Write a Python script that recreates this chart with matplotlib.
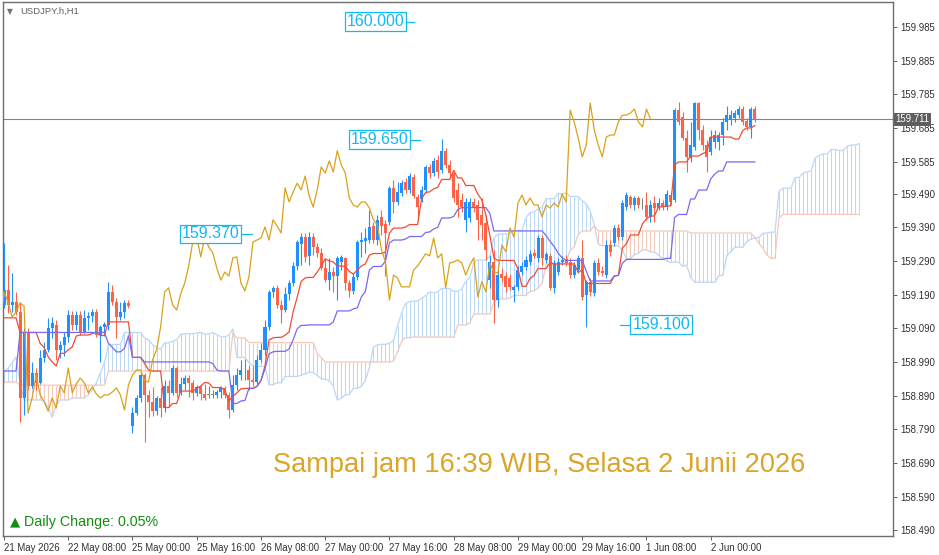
import numpy as np
import pandas as pd
import matplotlib
matplotlib.use('Agg')
import matplotlib.pyplot as plt
import matplotlib.transforms as mtransforms

# USDJPY.h H1 candles (21 May 2026 -> 2 Jun 2026)
opens = [
    159.159, 159.204, 159.159, 159.168, 159.138, 158.883, 159.079, 158.919, 158.957, 158.928,
    159.002, 159.026, 159.091, 159.100, 159.026, 159.040, 159.064, 159.129, 159.100, 159.129,
    159.079, 159.121, 159.127, 159.138, 159.070, 159.094, 159.100, 159.198, 159.168, 159.124,
    159.138, 159.165, 158.800, 158.838, 158.883, 158.951, 158.892, 158.871, 158.844, 158.883,
    158.853, 158.919, 158.898, 158.972, 158.898, 158.925, 158.942, 158.928, 158.898, 158.916,
    158.895, 158.892, 158.892, 158.892, 158.901, 158.913, 158.892, 158.847, 158.922, 158.951,
    158.966, 158.966, 158.936, 158.930, 158.996, 159.026, 159.094, 159.198, 159.210, 159.159,
    159.144, 159.192, 159.224, 159.275, 159.340, 159.361, 159.305, 159.361, 159.331, 159.314,
    159.269, 159.233, 159.257, 159.245, 159.287, 159.299, 159.224, 159.201, 159.242, 159.346,
    159.349, 159.352, 159.394, 159.352, 159.421, 159.400, 159.406, 159.507, 159.465, 159.492,
    159.524, 159.501, 159.539, 159.480, 159.474, 159.501, 159.569, 159.551, 159.590, 159.560,
    159.617, 159.575, 159.551, 159.501, 159.471, 159.412, 159.418, 159.465, 159.456, 159.426,
    159.403, 159.233, 159.287, 159.174, 159.251, 159.245, 159.239, 159.204, 159.213, 159.257,
    159.272, 159.287, 159.314, 159.299, 159.358, 159.293, 159.305, 159.210, 159.257, 159.287,
    159.296, 159.287, 159.248, 159.263, 159.299, 159.189, 159.228, 159.195, 159.284, 159.260,
    159.248, 159.337, 159.343, 159.388, 159.361, 159.450, 159.480, 159.456, 159.477, 159.456,
    159.456, 159.421, 159.462, 159.447, 159.462, 159.450, 159.486, 159.471, 159.738, 159.718,
    159.655, 159.596, 159.628, 159.759, 159.679, 159.634, 159.614, 159.643, 159.643, 159.664,
    159.703, 159.709, 159.715, 159.723, 159.741, 159.706, 159.688, 159.741,
]
highs = [
    159.343, 159.278, 159.254, 159.198, 159.168, 159.091, 159.091, 158.990, 158.972, 159.026,
    159.049, 159.121, 159.124, 159.115, 159.052, 159.079, 159.144, 159.141, 159.141, 159.141,
    159.144, 159.138, 159.147, 159.147, 159.100, 159.109, 159.228, 159.219, 159.180, 159.168,
    159.174, 159.174, 158.856, 158.892, 158.957, 158.957, 158.907, 158.916, 158.889, 158.916,
    158.936, 158.936, 158.981, 158.978, 158.945, 158.951, 158.951, 158.936, 158.922, 158.922,
    158.925, 158.919, 158.907, 158.907, 158.919, 158.919, 158.901, 158.951, 158.972, 158.996,
    158.999, 158.981, 158.978, 159.011, 159.046, 159.115, 159.204, 159.216, 159.219, 159.174,
    159.213, 159.233, 159.287, 159.352, 159.373, 159.373, 159.376, 159.373, 159.343, 159.328,
    159.299, 159.299, 159.272, 159.305, 159.308, 159.302, 159.233, 159.254, 159.352, 159.376,
    159.388, 159.441, 159.406, 159.426, 159.441, 159.412, 159.513, 159.530, 159.524, 159.530,
    159.536, 159.551, 159.548, 159.489, 159.513, 159.575, 159.578, 159.596, 159.605, 159.652,
    159.625, 159.590, 159.560, 159.521, 159.492, 159.477, 159.477, 159.477, 159.471, 159.477,
    159.426, 159.308, 159.323, 159.263, 159.269, 159.257, 159.251, 159.219, 159.275, 159.287,
    159.305, 159.323, 159.326, 159.367, 159.367, 159.317, 159.314, 159.293, 159.299, 159.305,
    159.308, 159.299, 159.287, 159.308, 159.352, 159.233, 159.239, 159.293, 159.299, 159.275,
    159.352, 159.352, 159.397, 159.400, 159.471, 159.495, 159.486, 159.483, 159.483, 159.477,
    159.495, 159.471, 159.483, 159.477, 159.471, 159.501, 159.495, 159.744, 159.762, 159.732,
    159.679, 159.703, 159.762, 159.762, 159.694, 159.649, 159.679, 159.679, 159.673, 159.715,
    159.750, 159.738, 159.738, 159.750, 159.750, 159.715, 159.747, 159.750,
]
lows = [
    159.150, 159.135, 159.138, 159.129, 158.812, 158.832, 158.907, 158.913, 158.907, 158.925,
    158.990, 159.020, 159.061, 158.996, 159.002, 159.008, 159.049, 159.085, 159.085, 159.070,
    159.076, 159.085, 159.109, 159.064, 158.990, 159.067, 159.085, 159.159, 159.061, 159.115,
    159.121, 159.150, 158.779, 158.832, 158.871, 158.752, 158.826, 158.829, 158.832, 158.826,
    158.841, 158.856, 158.892, 158.886, 158.892, 158.907, 158.886, 158.877, 158.889, 158.877,
    158.877, 158.883, 158.883, 158.883, 158.883, 158.883, 158.824, 158.841, 158.907, 158.936,
    158.936, 158.907, 158.919, 158.925, 158.990, 159.011, 159.085, 159.183, 159.150, 159.106,
    159.138, 159.174, 159.216, 159.263, 159.278, 159.287, 159.278, 159.308, 159.302, 159.263,
    159.228, 159.204, 159.198, 159.174, 159.263, 159.204, 159.183, 159.192, 159.233, 159.302,
    159.314, 159.343, 159.343, 159.337, 159.367, 159.245, 159.397, 159.432, 159.456, 159.483,
    159.492, 159.492, 159.477, 159.412, 159.465, 159.492, 159.536, 159.542, 159.536, 159.551,
    159.566, 159.536, 159.465, 159.421, 159.435, 159.376, 159.406, 159.435, 159.352, 159.352,
    159.293, 159.210, 159.106, 159.153, 159.228, 159.198, 159.204, 159.168, 159.204, 159.248,
    159.263, 159.278, 159.299, 159.287, 159.278, 159.284, 159.204, 159.195, 159.248, 159.278,
    159.275, 159.239, 159.239, 159.254, 159.174, 159.094, 159.186, 159.186, 159.248, 159.245,
    159.239, 159.305, 159.334, 159.352, 159.352, 159.441, 159.447, 159.441, 159.447, 159.444,
    159.412, 159.406, 159.406, 159.441, 159.441, 159.441, 159.456, 159.465, 159.694, 159.649,
    159.554, 159.584, 159.620, 159.649, 159.620, 159.554, 159.605, 159.625, 159.620, 159.634,
    159.679, 159.694, 159.703, 159.715, 159.694, 159.679, 159.655, 159.703,
]
closes = [
    159.204, 159.159, 159.168, 159.138, 158.883, 159.079, 158.919, 158.957, 158.928, 159.002,
    159.026, 159.091, 159.106, 159.026, 159.040, 159.064, 159.129, 159.100, 159.129, 159.079,
    159.121, 159.127, 159.138, 159.070, 159.094, 159.103, 159.198, 159.168, 159.124, 159.138,
    159.165, 159.156, 158.838, 158.883, 158.951, 158.892, 158.871, 158.844, 158.883, 158.853,
    158.919, 158.898, 158.972, 158.898, 158.925, 158.942, 158.928, 158.898, 158.916, 158.895,
    158.883, 158.892, 158.892, 158.901, 158.913, 158.892, 158.847, 158.922, 158.951, 158.966,
    158.966, 158.936, 158.930, 158.996, 159.026, 159.094, 159.198, 159.210, 159.159, 159.144,
    159.192, 159.224, 159.275, 159.346, 159.361, 159.302, 159.361, 159.331, 159.314, 159.269,
    159.233, 159.257, 159.245, 159.299, 159.302, 159.224, 159.201, 159.242, 159.346, 159.352,
    159.358, 159.391, 159.352, 159.412, 159.394, 159.373, 159.507, 159.465, 159.495, 159.521,
    159.501, 159.542, 159.483, 159.450, 159.501, 159.569, 159.551, 159.587, 159.554, 159.617,
    159.575, 159.551, 159.477, 159.456, 159.450, 159.465, 159.465, 159.447, 159.412, 159.397,
    159.323, 159.287, 159.174, 159.248, 159.239, 159.213, 159.213, 159.213, 159.263, 159.275,
    159.293, 159.311, 159.305, 159.358, 159.299, 159.311, 159.210, 159.284, 159.287, 159.293,
    159.284, 159.248, 159.278, 159.299, 159.183, 159.228, 159.198, 159.284, 159.257, 159.254,
    159.337, 159.317, 159.388, 159.361, 159.462, 159.486, 159.456, 159.477, 159.456, 159.456,
    159.421, 159.456, 159.447, 159.462, 159.450, 159.489, 159.465, 159.738, 159.703, 159.655,
    159.599, 159.634, 159.759, 159.679, 159.634, 159.599, 159.658, 159.664, 159.664, 159.703,
    159.723, 159.723, 159.729, 159.741, 159.703, 159.688, 159.741, 159.711,
]

# indicator values at the left edge (their history is off-screen)
tenkan_head = [159.121, 159.121, 159.121, 159.121]
kijun_head = [158.963, 158.963, 158.963, 158.963]
span_a_head = [158.960, 158.972, 158.987, 159.005, 158.928, 158.877, 158.877, 158.877, 158.877,
               158.877, 158.877, 158.853, 158.826, 158.862, 158.877, 158.877, 158.877, 158.883,
               158.883, 158.883, 158.883, 158.892, 158.907, 158.928, 158.957, 158.987]
span_b_head = [158.930] * 4 + [158.921] * 22 + [158.963] * 31

time_labels = ['21 May 2026', '22 May 08:00', '25 May 00:00', '25 May 16:00', '26 May 08:00',
               '27 May 00:00', '27 May 16:00', '28 May 08:00', '29 May 00:00', '29 May 16:00',
               '1 Jun 08:00', '2 Jun 00:00']
price_ticks = [159.985, 159.885, 159.785, 159.685, 159.585, 159.490, 159.390, 159.290,
               159.190, 159.090, 158.990, 158.890, 158.790, 158.690, 158.590, 158.490]
last_price = 159.711
levels = [160.000, 159.650, 159.370, 159.100]

plt.rcParams['font.family'] = ['Liberation Sans', 'DejaVu Sans']

n = len(closes)
idx = np.arange(n)
hi = pd.Series(highs)
lo = pd.Series(lows)

tenkan = ((hi.rolling(9, min_periods=1).max() + lo.rolling(9, min_periods=1).min()) / 2).values
tenkan[:len(tenkan_head)] = tenkan_head
kijun = ((hi.rolling(26, min_periods=1).max() + lo.rolling(26, min_periods=1).min()) / 2).values
kijun[:len(kijun_head)] = kijun_head
span_a = np.empty(n + 26)
span_a[26:] = (tenkan + kijun) / 2
span_a[:26] = span_a_head
span_b = np.empty(n + 26)
span_b[26:] = ((hi.rolling(52, min_periods=1).max() + lo.rolling(52, min_periods=1).min()) / 2).values
span_b[:len(span_b_head)] = span_b_head
cidx = np.arange(n + 26)

BULL = '#1e90ff'
BEAR = '#ff6347'
CLOUD_UP = '#bcd8f5'
CLOUD_DN = '#f5c9b9'

fig = plt.figure(figsize=(9.39, 5.55), dpi=100)
ax = fig.add_axes([3 / 939, 19 / 555, 890 / 939, 534 / 555])

# cloud: one vertical hatch per bar
up = span_a >= span_b
ax.vlines(cidx, np.minimum(span_a, span_b), np.maximum(span_a, span_b),
          colors=np.where(up, CLOUD_UP, CLOUD_DN), lw=0.75, zorder=1)
ax.plot(cidx, span_a, color=CLOUD_UP, lw=0.9, zorder=1)
ax.plot(cidx, span_b, color=CLOUD_DN, lw=0.9, zorder=1)

# candles
o = np.array(opens)
c = np.array(closes)
colors = np.where(np.abs(c - o) < 0.002, '#808080', np.where(c > o, BULL, BEAR))
ax.vlines(idx, lows, highs, colors=colors, lw=0.8, zorder=3)
body = np.maximum(np.abs(c - o), 0.0015)
ax.bar(idx, body, bottom=np.minimum(o, c), width=0.75, color=colors, lw=0, zorder=3)

# ichimoku lines
ax.plot(idx, tenkan, color='#f24b35', lw=0.9, zorder=4)
ax.plot(idx, kijun, color='#7b68ee', lw=0.9, zorder=4)
ax.plot(idx - 26, closes, color='#d9a21b', lw=0.9, zorder=4)

# current price line
ax.axhline(last_price, color='#7a8896', lw=0.8, zorder=2)

# price level labels
LBL = '#12b8f0'
lab_pos = [(84.9, 102.1, 'right'), (85.9, 103.6, 'right'), (43.8, 61.8, 'right'), (156.1, 153.4, 'left')]
for lv, (bx, lx, side) in zip(levels, lab_pos):
    if side == 'right':
        x0, x1 = bx + 15.2, lx
    else:
        x0, x1 = lx, bx
    ax.plot([x0, x1], [lv, lv], color=LBL, lw=0.9, zorder=5)
    ax.text(bx + 0.4, lv, '%.3f' % lv, color=LBL, fontsize=11.5, ha='left', va='center', zorder=6,
            bbox=dict(boxstyle='square,pad=0.12', facecolor='white', edgecolor=LBL, lw=0.9))

ax.text(0.3035, 0.133, 'Sampai jam 16:39 WIB, Selasa 2 Junii 2026', transform=ax.transAxes,
        color='#dba42a', fontsize=19.6, ha='left', va='center')
ax.text(0.0075, 0.027, '\u25b2', transform=ax.transAxes, color='#128c12', fontsize=9.5,
        ha='left', va='center', family=['DejaVu Sans'])
ax.text(0.024, 0.026, 'Daily Change: 0.05%', transform=ax.transAxes, color='#128c12',
        fontsize=10.3, ha='left', va='center')
ax.text(0.004, 0.983, '\u25bc', transform=ax.transAxes, color='#707070', fontsize=5.5,
        ha='left', va='center', family=['DejaVu Sans'])
ax.text(0.019, 0.983, 'USDJPY.h,H1', transform=ax.transAxes, color='#606060', fontsize=6.8,
        ha='left', va='center')

# axes
ax.set_xlim(-0.25, 221.4)
ax.set_ylim(158.473, 160.059)
ax.set_xticks(np.arange(len(time_labels)) * 16)
ax.set_xticklabels(time_labels, ha='left', fontsize=6.9, color='#303030')
ax.yaxis.tick_right()
ax.set_yticks(price_ticks)
ax.set_yticklabels(['%.3f' % t for t in price_ticks], fontsize=6.9, color='#303030')
ax.tick_params(axis='both', length=3, width=0.7, color='#606060', pad=2)
for s in ax.spines.values():
    s.set_color('#6e6e6e')
    s.set_linewidth(1)

trans = mtransforms.blended_transform_factory(ax.transAxes, ax.transData)
ax.text(1.003, last_price, '%.3f' % last_price, transform=trans, color='white', fontsize=6.9,
        ha='left', va='center', zorder=7,
        bbox=dict(boxstyle='square,pad=0.15', facecolor='#5f5f5f', edgecolor='none'))

fig.savefig('out.png', dpi=100)
